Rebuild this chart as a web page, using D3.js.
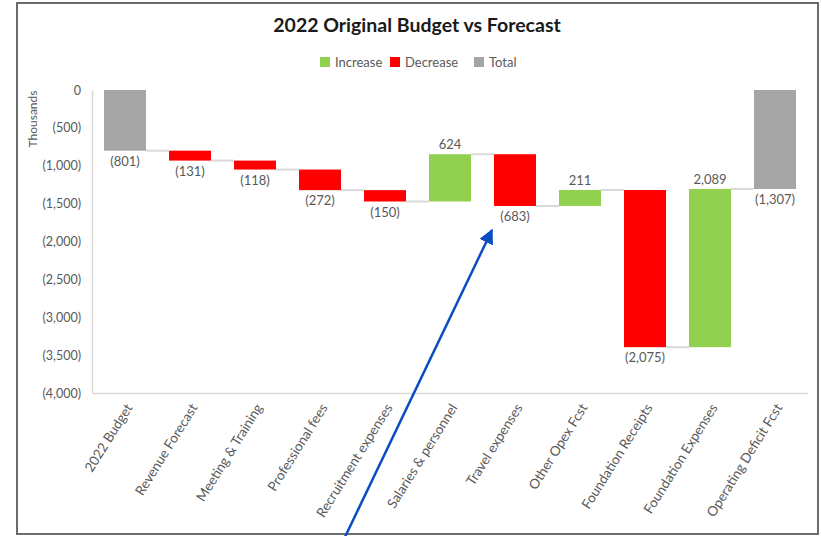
<!DOCTYPE html>
<html>
<head>
<meta charset="utf-8">
<script src="https://cdn.jsdelivr.net/npm/d3@7"></script>
<style>
  html, body { margin: 0; padding: 0; background: #fff; }
  svg { display: block; }
  text { font-family: Lato, "Open Sans", sans-serif; }
</style>
</head>
<body>
<svg id="chart" width="821" height="536"></svg>
<script>
// Waterfall: 2022 original budget walked to the operating deficit forecast (thousands)
const categories = [
  "2022 Budget", "Revenue Forecast", "Meeting & Training", "Professional fees",
  "Recruitment expenses", "Salaries & personnel", "Travel expenses", "Other Opex Fcst",
  "Foundation Receipts", "Foundation Expenses", "Operating Deficit Fcst"
];
const values = [-801, -131, -118, -272, -150, 624, -683, 211, -2075, 2089, -1307];
const kinds = ["total", "step", "step", "step", "step", "step", "step", "step", "step", "step", "total"];
const yTicks = [0, -500, -1000, -1500, -2000, -2500, -3000, -3500, -4000];
const legendItems = ["Increase", "Decrease", "Total"];

const colors = { Increase: "#92d050", Decrease: "#ff0000", Total: "#a5a5a5" };
const textGray = "#595959";

// running totals -> bar start/end
let running = 0;
const bars = categories.map((c, i) => {
  const v = values[i];
  let start, end, type;
  if (kinds[i] === "total") {
    start = 0; end = v; running = v; type = "Total";
  } else {
    start = running; end = running + v; running = end;
    type = v >= 0 ? "Increase" : "Decrease";
  }
  return { cat: c, value: v, start, end, type };
});

const svg = d3.select("#chart");

// outer frame
svg.append("rect")
  .attr("x", 17).attr("y", 3).attr("width", 801).attr("height", 531)
  .attr("fill", "none").attr("stroke", "#6b6b6b").attr("stroke-width", 2);

const x = d3.scaleBand().domain(categories).range([92.5, 807.5]).paddingInner(0.354).paddingOuter(0.177);
const y = d3.scaleLinear().domain([-4000, 0]).range([393, 90]);

// title
svg.append("text")
  .attr("x", 417).attr("y", 32)
  .attr("text-anchor", "middle")
  .attr("font-size", 19.5).attr("font-weight", 700).attr("fill", "#1a1a1a")
  .text("2022 Original Budget vs Forecast");

// legend
const legendX = [320, 390, 474];
const lg = svg.append("g");
legendItems.forEach((k, i) => {
  lg.append("rect").attr("x", legendX[i]).attr("y", 57).attr("width", 10).attr("height", 10).attr("fill", colors[k]);
  lg.append("text").attr("x", legendX[i] + 15).attr("y", 66.5)
    .attr("font-size", 13).attr("fill", textGray).text(k);
});

// y axis
const fmt = v => v === 0 ? "0" : v < 0 ? "(" + d3.format(",")(-v) + ")" : d3.format(",")(v);
const yAxis = svg.append("g")
  .attr("transform", "translate(92,0)")
  .call(d3.axisLeft(y).tickValues(yTicks).tickFormat(fmt).tickSize(0).tickPadding(11));
yAxis.select(".domain").attr("stroke", "#d9d9d9").attr("stroke-width", 1.5);
yAxis.selectAll("text").attr("font-size", 12.5).attr("fill", textGray)
  .style("font-family", "Lato, 'Open Sans', sans-serif");

svg.append("text")
  .attr("transform", "translate(37,119) rotate(-90)")
  .attr("text-anchor", "middle")
  .attr("font-size", 12).attr("fill", textGray)
  .text("Thousands");

// x axis
const xAxis = svg.append("g")
  .attr("transform", "translate(0,393)")
  .call(d3.axisBottom(x).tickSize(0).tickSizeOuter(0).tickFormat(""));
xAxis.select(".domain").attr("stroke", "#d9d9d9").attr("stroke-width", 1.5);

svg.append("g").selectAll("text")
  .data(categories)
  .join("text")
  .attr("transform", d => `translate(${x(d) + x.bandwidth() / 2 + 4},405) rotate(-58)`)
  .attr("text-anchor", "end")
  .attr("dy", "0.35em")
  .attr("font-size", 13.5).attr("fill", textGray)
  .text(d => d);

// connectors
svg.append("g").selectAll("line")
  .data(bars.slice(0, -1))
  .join("line")
  .attr("x1", d => x(d.cat) + x.bandwidth())
  .attr("x2", (d, i) => x(categories[i + 1]))
  .attr("y1", d => y(d.end))
  .attr("y2", d => y(d.end))
  .attr("stroke", "#d9d9d9").attr("stroke-width", 2);

// bars
svg.append("g").selectAll("rect")
  .data(bars)
  .join("rect")
  .attr("x", d => x(d.cat))
  .attr("width", x.bandwidth())
  .attr("y", d => y(Math.max(d.start, d.end)))
  .attr("height", d => Math.abs(y(d.start) - y(d.end)))
  .attr("fill", d => colors[d.type]);

// value labels
svg.append("g").selectAll("text")
  .data(bars)
  .join("text")
  .attr("x", d => x(d.cat) + x.bandwidth() / 2)
  .attr("y", d => d.value >= 0 ? y(Math.max(d.start, d.end)) - 5 : y(Math.min(d.start, d.end)) + 15)
  .attr("text-anchor", "middle")
  .attr("font-size", 13).attr("fill", textGray)
  .text(d => fmt(d.value));

// annotation arrow
const defs = svg.append("defs");
defs.append("marker")
  .attr("id", "arrowHead")
  .attr("viewBox", "0 0 10 10")
  .attr("refX", 9).attr("refY", 5)
  .attr("markerWidth", 6).attr("markerHeight", 6)
  .attr("markerUnits", "strokeWidth")
  .attr("orient", "auto")
  .append("path").attr("d", "M0,0 L10,5 L0,10 z").attr("fill", "#0a4cc2");

svg.append("line")
  .attr("x1", 345).attr("y1", 537)
  .attr("x2", 492).attr("y2", 230)
  .attr("stroke", "#0a4cc2").attr("stroke-width", 2.5)
  .attr("marker-end", "url(#arrowHead)");
</script>
</body>
</html>
